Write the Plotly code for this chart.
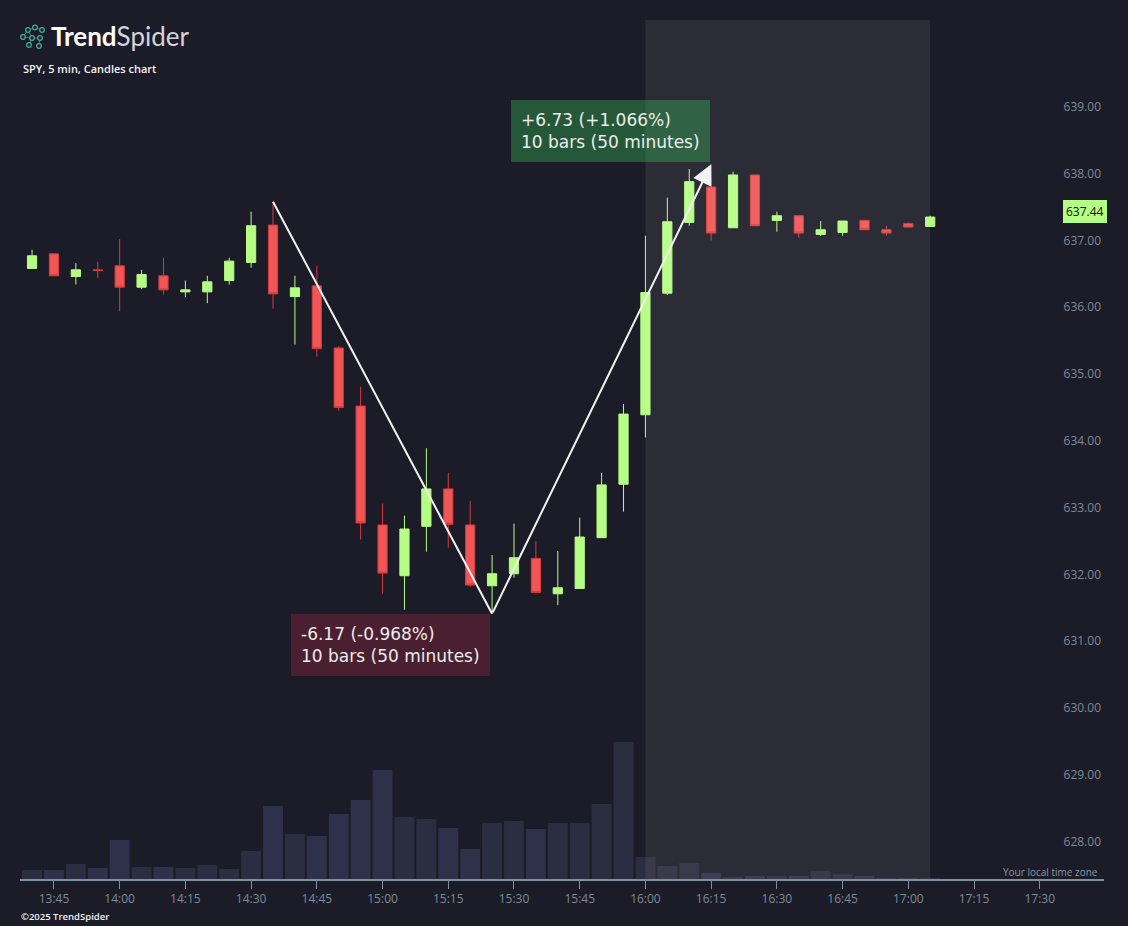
import plotly.graph_objects as go

# ---------------- data ----------------
DATE = "2025-08-22"
TIMES = ["13:40", "13:45", "13:50", "13:55", "14:00", "14:05", "14:10", "14:15", "14:20", "14:25",
         "14:30", "14:35", "14:40", "14:45", "14:50", "14:55", "15:00", "15:05", "15:10", "15:15",
         "15:20", "15:25", "15:30", "15:35", "15:40", "15:45", "15:50", "15:55", "16:00", "16:05",
         "16:10", "16:15", "16:20", "16:25", "16:30", "16:35", "16:40", "16:45", "16:50", "16:55",
         "17:00", "17:05"]
OPEN = [636.58, 636.80, 636.46, 636.56, 636.62, 636.30, 636.47, 636.23, 636.23, 636.40,
        636.67, 637.23, 636.16, 636.32, 635.39, 634.52, 632.74, 631.98, 632.72, 633.28,
        632.74, 631.83, 632.01, 632.24, 631.71, 631.79, 632.55, 633.35, 634.39, 636.21,
        637.27, 637.80, 637.19, 637.98, 637.30, 637.37, 637.09, 637.12, 637.30, 637.16,
        637.25, 637.21]
HIGH = [636.86, 636.80, 636.66, 636.68, 637.02, 636.56, 636.74, 636.40, 636.47, 636.74,
        637.43, 637.58, 636.47, 636.62, 635.42, 634.81, 633.06, 632.88, 633.89, 633.52,
        633.10, 632.29, 632.76, 632.50, 632.35, 632.85, 633.52, 634.55, 637.07, 637.64,
        638.07, 638.14, 638.03, 637.98, 637.43, 637.37, 637.29, 637.29, 637.30, 637.22,
        637.27, 637.37]
LOW = [636.58, 636.47, 636.34, 636.44, 635.94, 636.27, 636.19, 636.15, 636.06, 636.34,
       636.59, 635.98, 635.44, 635.26, 634.45, 632.52, 631.71, 631.47, 632.34, 632.40,
       631.81, 631.41, 631.95, 631.73, 631.54, 631.79, 632.55, 632.94, 634.05, 636.18,
       637.22, 637.00, 637.19, 637.22, 637.13, 637.04, 637.07, 637.07, 637.16, 637.07,
       637.20, 637.21]
CLOSE = [636.77, 636.47, 636.56, 636.55, 636.30, 636.49, 636.26, 636.26, 636.38, 636.69,
         637.22, 636.20, 636.29, 635.38, 634.50, 632.77, 632.02, 632.68, 633.28, 632.75,
         631.84, 632.01, 632.25, 631.73, 631.80, 632.56, 633.34, 634.40, 636.22, 637.28,
         637.88, 637.11, 637.98, 637.22, 637.37, 637.11, 637.16, 637.29, 637.16, 637.11,
         637.20, 637.35]
VOLUME_K = [90, 90, 150, 110, 390, 120, 120, 110, 140, 100,
            280, 730, 450, 430, 650, 790, 1090, 620, 600, 510,
            300, 560, 580, 500, 560, 560, 750, 1370, 220, 130,
            160, 60, 20, 30, 30, 30, 80, 50, 30, 10,
            6, 4]
PRICE_TICKS = [628, 629, 630, 631, 632, 633, 634, 635, 636, 637, 638, 639]
LAST_PRICE = 637.44
AFTER_HOURS = ("16:00", "17:05")

MOVE_DOWN = {"start": "14:35", "start_price": 637.58, "end": "15:25", "end_price": 631.41,
             "lines": ["-6.17 (-0.968%)", "10 bars (50 minutes)"]}
MOVE_UP = {"start": "15:25", "start_price": 631.41, "end": "16:15", "end_price": 638.14,
           "lines": ["+6.73 (+1.066%)", "10 bars (50 minutes)"]}

TITLE_SUB = "SPY, 5 min, Candles chart"
FOOTER = "©2025 TrendSpider"
TZ_NOTE = "Your local time zone"

# ---------------- styling ----------------
BG = "#1c1c28"
UP = "#b6fd84"
DOWN_FILL = "#f05656"
DOWN_LINE = "#d83a3c"
AXIS_C = "#7f909e"
TICK_FONT = dict(family="Open Sans", size=12, color="#7d8a97")

W, H = 1128, 926
ML, MR, MT, MB = 20, 24, 20, 47


def t(hm):
    return f"{DATE} {hm}"


X = [t(s) for s in TIMES]
vol_colors = ["#2b2d40" if c >= o else "#2e3149" for o, c in zip(OPEN, CLOSE)]

fig = go.Figure()

fig.add_trace(go.Bar(
    x=X, y=VOLUME_K, yaxis="y2", marker=dict(color=vol_colors, line=dict(width=0)),
    width=272000, hoverinfo="skip", showlegend=False,
))

fig.add_trace(go.Candlestick(
    x=X, open=OPEN, high=HIGH, low=LOW, close=CLOSE,
    increasing=dict(line=dict(color=UP, width=1), fillcolor=UP),
    decreasing=dict(line=dict(color=DOWN_LINE, width=1), fillcolor=DOWN_FILL),
    whiskerwidth=0, showlegend=False,
))

# paper helpers for decorations
PW, PH = W - ML - MR, H - MT - MB


def px(xp):
    return (xp - ML) / PW


def py(yp):
    return (H - MB - yp) / PH


shapes = [
    # after-hours shade
    dict(type="rect", xref="x", yref="paper", x0=t(AFTER_HOURS[0]), x1=t(AFTER_HOURS[1]),
         y0=0, y1=1, fillcolor="rgba(255,255,255,0.07)", line=dict(width=0), layer="above"),
    # first leg of the measurement
    dict(type="line", xref="x", yref="y", x0=t(MOVE_DOWN["start"]), y0=MOVE_DOWN["start_price"],
         x1=t(MOVE_DOWN["end"]), y1=MOVE_DOWN["end_price"], line=dict(color="#f2f2f2", width=2),
         layer="above"),
]

# logo icon (decorative)
nodes = [(23, 37), (28, 30), (35, 27.5), (42, 30), (32, 38), (40, 38), (29, 45), (39, 46)]
links = [(0, 1), (1, 2), (2, 3), (0, 4), (4, 5), (4, 6), (5, 7), (1, 4)]
for a, b in links:
    shapes.append(dict(type="line", xref="paper", yref="paper",
                       x0=px(nodes[a][0]), y0=py(nodes[a][1]), x1=px(nodes[b][0]), y1=py(nodes[b][1]),
                       line=dict(color="#2f7f6e", width=1), layer="above"))
for (cx, cy) in nodes:
    r = 2.3
    shapes.append(dict(type="circle", xref="paper", yref="paper",
                       x0=px(cx - r), x1=px(cx + r), y0=py(cy + r), y1=py(cy - r),
                       fillcolor=BG, line=dict(color="#3fae95", width=1.3), layer="above"))

annotations = [
    dict(xref="paper", yref="paper", x=0, y=1, xanchor="left", yanchor="middle",
         xshift=29, yshift=-16, showarrow=False,
         text="<b>Trend</b><span style='color:#d4d4da'>Spider</span>",
         font=dict(family="Lato", size=26, color="#ffffff")),
    dict(xref="paper", yref="paper", x=0, y=1, xanchor="left", yanchor="middle",
         xshift=1, yshift=-48, showarrow=False, text=TITLE_SUB,
         font=dict(family="Open Sans", size=11, color="#f2f2f2", weight=600)),
    dict(xref="paper", yref="paper", x=0, y=0, xanchor="left", yanchor="middle",
         xshift=-1, yshift=-37, showarrow=False, text=FOOTER,
         font=dict(family="Open Sans", size=9.5, color="#f2f2f2", weight=600)),
    dict(xref="paper", yref="paper", x=1, y=0, xanchor="right", yanchor="middle",
         xshift=-4, yshift=7, showarrow=False, text=TZ_NOTE,
         font=dict(family="Open Sans", size=10, color="#8a97a4")),
    # last price label
    dict(xref="paper", yref="y", x=1, y=LAST_PRICE, xanchor="right", yanchor="middle",
         xshift=3, showarrow=False, text=f"{LAST_PRICE:.2f}",
         bgcolor=UP, bordercolor=UP, borderwidth=1, borderpad=2,
         font=dict(family="Open Sans", size=12, color="#111111")),
    # arrow for the second leg
    dict(xref="x", yref="y", axref="x", ayref="y", x=t(MOVE_UP["end"]), y=MOVE_UP["end_price"],
         ax=t(MOVE_UP["start"]), ay=MOVE_UP["start_price"], text="", showarrow=True,
         arrowhead=2, arrowsize=2, arrowwidth=2, arrowcolor="#f2f2f2", standoff=0),
    # measurement boxes
    dict(xref="x", yref="y", x=t(MOVE_DOWN["start"]), y=MOVE_DOWN["end_price"],
         xanchor="left", yanchor="top", xshift=18, showarrow=False, align="left",
         text="<br>".join(MOVE_DOWN["lines"]), bgcolor="rgba(181,41,67,0.30)",
         borderwidth=0, borderpad=10, font=dict(family="DejaVu Sans", size=17, color="#ececec")),
    dict(xref="x", yref="y", x=t(MOVE_UP["start"]), y=MOVE_UP["end_price"],
         xanchor="left", yanchor="bottom", xshift=19, yshift=2, showarrow=False, align="left",
         text="<br>".join(MOVE_UP["lines"]), bgcolor="rgba(58,228,100,0.30)",
         borderwidth=0, borderpad=10, font=dict(family="DejaVu Sans", size=17, color="#ececec")),
]

fig.update_layout(
    width=W, height=H, margin=dict(l=ML, r=MR, t=MT, b=MB),
    paper_bgcolor=BG, plot_bgcolor=BG, showlegend=False,
    boxgap=0.4,
    xaxis=dict(type="date", range=[t("13:37:15"), t("17:44:40")],
               rangeslider=dict(visible=False), showgrid=False, zeroline=False,
               showline=True, linecolor=AXIS_C, linewidth=1.5,
               ticks="outside", ticklen=8, tickcolor=AXIS_C, tickwidth=1,
               tick0=t("13:45"), dtick=15 * 60 * 1000, tickformat="%H:%M",
               tickfont=TICK_FONT),
    yaxis=dict(range=[627.44, 640.30], side="right", ticklabelposition="inside",
               showgrid=False, zeroline=False, showline=False, ticks="",
               tickmode="array", tickvals=PRICE_TICKS,
               ticktext=[f"{v:.2f}" for v in PRICE_TICKS], tickfont=TICK_FONT),
    yaxis2=dict(overlaying="y", range=[0, 8590], visible=False),
    shapes=shapes, annotations=annotations,
)

fig.write_html(
    "out.html",
    config={"displayModeBar": False},
    post_script="document.body.style.margin='0';document.body.style.overflow='hidden';"
                "document.body.style.background='" + BG + "';",
)
